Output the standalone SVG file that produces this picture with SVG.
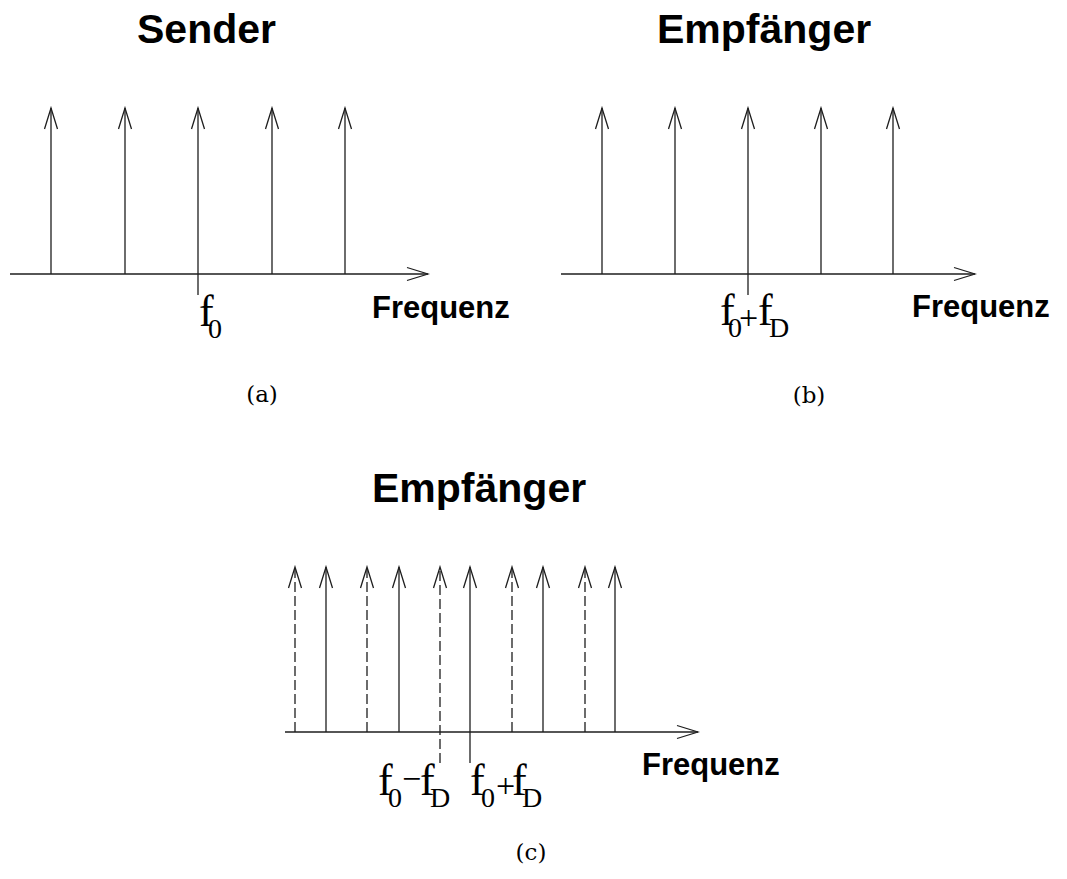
<svg xmlns="http://www.w3.org/2000/svg" width="1067" height="879" viewBox="0 0 1067 879">
<style>
.sp{stroke:#1e1e1e;stroke-width:1.3;fill:none;marker-end:url(#ah)}
.dsh{stroke-dasharray:10 4}
.ttl{font-family:"Liberation Sans",Arial,sans-serif;font-weight:bold;font-size:41px;fill:#000}
.fq{font-family:"Liberation Sans",Arial,sans-serif;font-weight:bold;font-size:31px;fill:#000}
.m{font-family:"Liberation Serif","Times New Roman",serif;font-size:44px;fill:#000}
.s{font-size:28px}
.o{font-size:34px}
.cap{font-family:"DejaVu Serif","Liberation Serif",serif;font-size:23px;fill:#000;text-anchor:middle}
</style>
<defs>
<marker id="ah" markerUnits="userSpaceOnUse" viewBox="-23 -8 25 16" markerWidth="25" markerHeight="16" refX="0" refY="0" orient="auto">
<path d="M-21,-6.5 L0,0 L-21,6.5" fill="none" stroke="#1e1e1e" stroke-width="1.3"/>
</marker>
</defs>

<g id="panel-a">
<text class="ttl" x="137" y="43">Sender</text>
<text class="fq" x="372" y="318">Frequenz</text>
<text class="m"><tspan x="199" y="326">f</tspan><tspan class="s" x="208" y="338">0</tspan></text>
<text class="cap" x="262" y="402">(a)</text>
</g>

<g id="panel-b">
<text class="ttl" x="657" y="43">Empfänger</text>
<text class="fq" x="912" y="317">Frequenz</text>
<text class="m"><tspan x="720" y="325">f</tspan><tspan class="s" x="728" y="337">0</tspan><tspan class="o" x="739" y="329">+</tspan><tspan x="758" y="325">f</tspan><tspan class="s" x="769" y="337">D</tspan></text>
<text class="cap" x="809" y="403">(b)</text>
</g>

<g id="panel-c">
<text class="ttl" x="372" y="502">Empfänger</text>
<text class="fq" x="642" y="775">Frequenz</text>
<text class="m"><tspan x="378" y="795">f</tspan><tspan class="s" x="388" y="807">0</tspan><tspan class="o" x="402" y="790">−</tspan><tspan x="420" y="795">f</tspan><tspan class="s" x="430" y="807">D</tspan></text>
<text class="m"><tspan x="470" y="795">f</tspan><tspan class="s" x="481" y="807">0</tspan><tspan class="o" x="496" y="797">+</tspan><tspan x="512" y="795">f</tspan><tspan class="s" x="522" y="807">D</tspan></text>
<text class="cap" x="531" y="860">(c)</text>
</g>

<g id="connectors">
<line class="sp" x1="10" y1="274" x2="428" y2="274"/>
<line class="sp" x1="51" y1="274" x2="51" y2="108"/>
<line class="sp" x1="125" y1="274" x2="125" y2="108"/>
<line class="sp" x1="198" y1="295" x2="198" y2="108"/>
<line class="sp" x1="272" y1="274" x2="272" y2="108"/>
<line class="sp" x1="345" y1="274" x2="345" y2="108"/>
<line class="sp" x1="561" y1="274" x2="975" y2="274"/>
<line class="sp" x1="602" y1="274" x2="602" y2="108"/>
<line class="sp" x1="675" y1="274" x2="675" y2="108"/>
<line class="sp" x1="748" y1="295" x2="748" y2="108"/>
<line class="sp" x1="821" y1="274" x2="821" y2="108"/>
<line class="sp" x1="893" y1="274" x2="893" y2="108"/>
<line class="sp" x1="285" y1="732" x2="698" y2="732"/>
<line class="sp dsh" x1="295" y1="732" x2="295" y2="567"/>
<line class="sp" x1="326" y1="732" x2="326" y2="567"/>
<line class="sp dsh" x1="367" y1="732" x2="367" y2="567"/>
<line class="sp" x1="399" y1="732" x2="399" y2="567"/>
<line class="sp dsh" x1="440" y1="763" x2="440" y2="567"/>
<line class="sp" x1="470" y1="763" x2="470" y2="567"/>
<line class="sp dsh" x1="512" y1="732" x2="512" y2="567"/>
<line class="sp" x1="543" y1="732" x2="543" y2="567"/>
<line class="sp dsh" x1="585" y1="732" x2="585" y2="567"/>
<line class="sp" x1="615" y1="732" x2="615" y2="567"/>
</g>
</svg>
